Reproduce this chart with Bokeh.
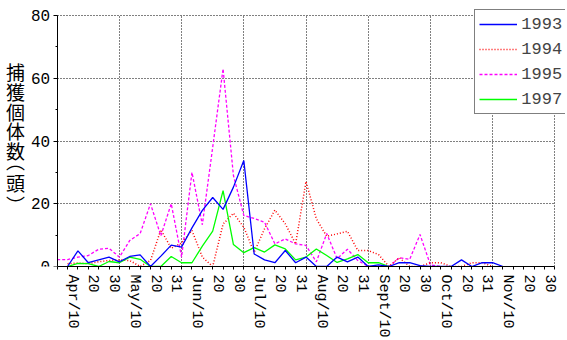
from bokeh.plotting import figure
from bokeh.models import Range1d, FixedTicker, Legend, LegendItem, Label
from bokeh.embed import file_html
from bokeh.resources import INLINE

# dekad tick labels (24 dekads Apr/10 .. Nov/30)
tick_labels = ["Apr/10", "20", "30", "May/10", "20", "31", "Jun/10", "20", "30",
               "Jul/10", "20", "31", "Aug/10", "20", "31", "Sept/10", "20", "30",
               "Oct/10", "20", "31", "Nov/10", "20", "30"]

# series values, one value per half-dekad (pentad) step starting at given step index
start_1993 = 1
y1993 = [0, 5, 1.2, 2.1, 3, 1.5, 3.2, 3.7, 0, 3.3, 6.8, 6.2, 12.3, 17.9, 22, 18.2,
         25.3, 33.8, 4, 2.1, 1.2, 5.1, 1.2, 3, 0, 0, 3, 1.5, 3, 0, 0.5, 0, 1.2, 1.2,
         0.3, 0, 0, 0, 2.1, 0, 1.2, 1.2, 0]
start_1994 = 1
y1994 = [0.9, 1.1, 0.9, 1.5, 1.9, 2.1, 1.9, 0, 1.9, 11.7, 5.8, 7.5, 11.5, 3, 0, 13.5,
         17, 12.5, 4.5, 12, 18, 13.6, 7.2, 27.1, 15.2, 9.6, 10.4, 11.2, 5.1, 5.1, 3.8,
         0, 2.8, 0, 0, 1.2, 1.2, 0, 0, 1.2, 1.2, 0]
start_1995 = 0
y1995 = [2.2, 2.2, 3, 3.5, 5.5, 5.8, 3, 8.3, 10.5, 20, 9.8, 20, 3, 30, 13.3, 38, 63,
         29, 16.3, 15.3, 14.1, 7.2, 8.8, 7.2, 6.7, 1.5, 10.5, 2.5, 5.5, 1.9, 0, 0, 0,
         2.8, 2.3, 10.2, 0.5, 0]
start_1997 = 1
y1997 = [0, 1.0, 0.9, 0, 1.6, 1.2, 3, 2.3, 0, 0, 3.2, 1.2, 1.2, 6.5, 11.3, 24.2, 7,
         4.4, 6, 4.6, 6.9, 5.6, 2.1, 3, 5.6, 3.5, 1.3, 2.4, 3.8, 1.2, 1.2, 0]

y_ticks = [0, 20, 40, 60, 80]
y_minor = [10, 30, 50, 70]
# y title, written top to bottom: 捕獲個体数（頭） with vertical-form brackets
y_label_chars = ["捕", "獲", "個", "体", "数", "\uFE35", "頭", "\uFE36"]

N_STEPS = 2 * len(tick_labels)   # 48 pentads
Y_MAX = 80

MONO = "Liberation Mono"

# pixel geometry of the data area inside a slightly larger frame
AX_L, AX_R, AX_T, AX_B = 56.7, 554.3, 15.0, 266.0
FR_L, FR_R, FR_T = 2.0, 565.0, 5.0
sx = (AX_R - AX_L) / N_STEPS
sy = (AX_B - AX_T) / Y_MAX
x0 = -(AX_L - FR_L) / sx
x1 = N_STEPS + (FR_R - AX_R) / sx
y1 = Y_MAX + (AX_T - FR_T) / sy

p = figure(width=567, height=340, output_backend="svg", toolbar_location=None,
           x_range=Range1d(x0, x1), y_range=Range1d(0, y1),
           min_border_left=int(FR_L), min_border_right=int(567 - FR_R),
           min_border_top=int(FR_T), min_border_bottom=int(340 - AX_B))
p.outline_line_color = None
p.background_fill_color = "white"
p.border_fill_color = "white"

# x axis: minor ticks every pentad, labels (major ticks) per dekad
lab_pos = [2 * k + 1.45 for k in range(len(tick_labels))]
xa = p.xaxis[0]
xa.bounds = (0, N_STEPS)
xa.ticker = FixedTicker(ticks=lab_pos, minor_ticks=list(range(0, N_STEPS + 1)))
xa.major_label_overrides = {pos: lab for pos, lab in zip(lab_pos, tick_labels)}
xa.major_tick_line_color = None
xa.major_tick_out = 0
xa.major_tick_in = 0
xa.minor_tick_out = 3
xa.minor_tick_in = 0
xa.minor_tick_line_color = "black"
xa.axis_line_color = "black"
xa.major_label_orientation = "vertical"
xa.major_label_standoff = 5
xa.major_label_text_font = MONO
xa.major_label_text_font_size = "15px"
xa.major_label_text_color = "black"

ya = p.yaxis[0]
ya.fixed_location = 0
ya.bounds = (0, Y_MAX)
ya.ticker = FixedTicker(ticks=y_ticks, minor_ticks=y_minor)
ya.major_tick_out = 4
ya.major_tick_in = 0
ya.minor_tick_out = 2
ya.minor_tick_in = 0
ya.axis_line_color = "black"
ya.major_tick_line_color = "black"
ya.minor_tick_line_color = "black"
ya.major_label_standoff = 3
ya.major_label_text_font = MONO
ya.major_label_text_font_size = "16px"
ya.major_label_text_color = "black"

p.xgrid.ticker = FixedTicker(ticks=list(range(6, N_STEPS + 1, 6)))
p.xgrid.cross_bounds = (0, Y_MAX)
p.xgrid.grid_line_color = "black"
p.xgrid.grid_line_dash = "1 2"
p.ygrid.ticker = FixedTicker(ticks=y_ticks[1:])
p.ygrid.cross_bounds = (0, N_STEPS)
p.ygrid.grid_line_color = "black"
p.ygrid.grid_line_dash = "1 2"

def xs(start, vals):
    return list(range(start, start + len(vals)))

r95 = p.line(xs(start_1995, y1995), y1995, line_color="#FF00FF", line_width=1.3, line_dash="3 2")
r94 = p.line(xs(start_1994, y1994), y1994, line_color="#FF0000", line_width=1.5, line_dash="1 2")
r97 = p.line(xs(start_1997, y1997), y1997, line_color="#00FF00", line_width=1.3)
r93 = p.line(xs(start_1993, y1993), y1993, line_color="#0000FF", line_width=1.3)

legend = Legend(items=[LegendItem(label="1993", renderers=[r93]),
                       LegendItem(label="1994", renderers=[r94]),
                       LegendItem(label="1995", renderers=[r95]),
                       LegendItem(label="1997", renderers=[r97])],
                location=(474.3 - FR_L, AX_B - 114.3), orientation="vertical",
                padding=4, spacing=5, margin=0,
                glyph_width=38, glyph_height=20, label_height=20, label_standoff=4,
                label_text_font=MONO, label_text_font_size="17px",
                border_line_color="black", border_line_width=1,
                background_fill_color="white", background_fill_alpha=1)
p.add_layout(legend, "center")

# vertical (stacked) y-axis title (vertical-form brackets sit off-centre in their cell)
char_centers_px = [71, 91, 110.5, 130, 149.5, 160, 182, 204]
for ch, cy in zip(y_label_chars, char_centers_px):
    p.add_layout(Label(x=(15 - AX_L) / sx, y=(AX_B - cy) / sy, text=ch,
                       text_font="Noto Sans CJK JP", text_font_size="19px",
                       text_align="center", text_baseline="middle", text_color="black"))

open("out.html", "w").write(file_html(p, INLINE))
